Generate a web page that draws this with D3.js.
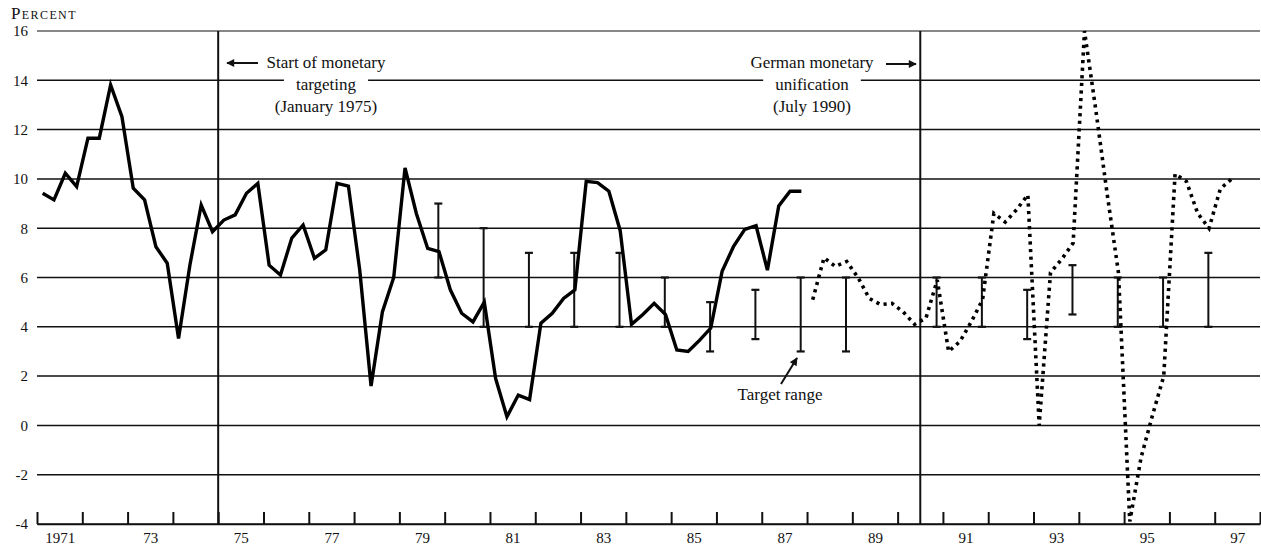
<!DOCTYPE html>
<html>
<head>
<meta charset="utf-8">
<script src="https://cdn.jsdelivr.net/npm/d3@7"></script>
<style>
  body { margin: 0; background: #fff; }
  svg text { font-family: "Liberation Serif", "DejaVu Serif", serif; fill: #111; }
</style>
</head>
<body>
<script>
// Chart size (matches the window)
var width = 1261;
var height = 552;

// Quarterly money growth, 1971 Q1 - 1987 Q4 (solid line)
var solidStart = 1971;
var solidValues = [
  9.42, 9.15, 10.23, 9.69,   11.65, 11.65, 13.81, 12.52,
  9.62, 9.15, 7.25, 6.58,    3.53, 6.5, 8.94, 7.86,
  8.33, 8.54, 9.42, 9.82,    6.5, 6.1, 7.6, 8.13,
  6.78, 7.12, 9.82, 9.71,    6.3, 1.6, 4.6, 6.0,
  10.45, 8.6, 7.18, 7.05,    5.5, 4.55, 4.2, 5.0,
  1.9, 0.35, 1.23, 1.05,     4.15, 4.55, 5.15, 5.5,
  9.9, 9.85, 9.5, 7.9,       4.1, 4.5, 4.95, 4.5,
  3.06, 3.0, 3.45, 3.95,     6.25, 7.25, 7.95, 8.1,
  6.3, 8.9, 9.5, 9.5
];

// Quarterly money growth, 1988 Q1 - 1997 Q2 (dotted line)
var dottedStart = 1988;
var dottedValues = [
  5.1, 6.8, 6.45, 6.65,      6.0, 5.15, 4.9, 4.95,
  4.6, 4.1, 4.35, 5.9,       3.0, 3.4, 4.2, 5.1,
  8.6, 8.25, 8.75, 9.35,     0.0, 6.2, 6.75, 7.4,
  16.0, 12.8, 9.4, 6.2,      -3.9, -1.3, 0.4, 2.0,
  10.2, 9.9, 8.6, 8.0,       9.6, 10.0
];

// Target ranges (percent), plotted in the fourth quarter of each year
var targetYears = [1979, 1980, 1981, 1982, 1983, 1984, 1985, 1986, 1987, 1988,
                   1990, 1991, 1992, 1993, 1994, 1995, 1996];
var targetLow   = [6, 4, 4, 4, 4, 4, 3, 3.5, 3, 3, 4, 4, 3.5, 4.5, 4, 4, 4];
var targetHigh  = [9, 8, 7, 7, 7, 6, 5, 5.5, 6, 6, 6, 6, 5.5, 6.5, 6, 6, 7];

// Axis ticks
var yTicks = [-4, -2, 0, 2, 4, 6, 8, 10, 12, 14, 16];
var yearLabels = [1971, 1973, 1975, 1977, 1979, 1981, 1983, 1985, 1987, 1989, 1991, 1993, 1995, 1997];

var x = d3.scaleLinear().domain([1971, 1998]).range([37, 1260]);
var y = d3.scaleLinear().domain([-4, 16]).range([524, 31]);

var svg = d3.select("body").append("svg")
  .attr("width", width)
  .attr("height", height);

// arrowhead marker
svg.append("defs").append("marker")
  .attr("id", "head")
  .attr("viewBox", "0 0 10 10")
  .attr("refX", 9).attr("refY", 5)
  .attr("markerWidth", 5).attr("markerHeight", 4)
  .attr("markerUnits", "strokeWidth")
  .attr("orient", "auto")
  .append("path")
  .attr("d", "M0,0 L10,5 L0,10 z")
  .attr("fill", "#111");

// Horizontal grid lines
svg.append("g").selectAll("line")
  .data(yTicks)
  .enter().append("line")
  .attr("x1", x(1971)).attr("x2", x(1998))
  .attr("y1", function (d) { return y(d); })
  .attr("y2", function (d) { return y(d); })
  .attr("stroke", "#111")
  .attr("stroke-width", function (d) { return d == 16 ? 1 : 1.5; });

// Y labels (plain hyphen for negatives, as in the print)
var yAxis = svg.append("g")
  .attr("transform", "translate(" + x(1971) + ",0)")
  .call(d3.axisLeft(y).tickValues(yTicks).tickSize(0).tickPadding(9)
    .tickFormat(function (d) { return String(d); }));
yAxis.select(".domain").remove();
yAxis.selectAll("text")
  .attr("font-size", "15px")
  .attr("font-family", "Liberation Serif")
  .attr("fill", "#111");

// Bottom axis: year ticks pointing up
var xAxis = svg.append("g")
  .attr("transform", "translate(0," + y(-4) + ")")
  .call(d3.axisBottom(x).tickValues(d3.range(1971, 1999)).tickSize(-12).tickSizeOuter(0).tickFormat(""));
xAxis.select(".domain").attr("stroke", "#111").attr("stroke-width", 1.5);
xAxis.selectAll(".tick line").attr("stroke", "#111").attr("stroke-width", 2);

// Year labels centered on the year
var xLab = svg.append("g")
  .attr("transform", "translate(0," + y(-4) + ")")
  .call(d3.axisBottom(x)
    .tickValues(yearLabels.map(function (d) { return d + 0.5; }))
    .tickSize(0).tickPadding(8)
    .tickFormat(function (d) {
      var yr = Math.floor(d);
      return yr == 1971 ? "1971" : String(yr).slice(2);
    }));
xLab.select(".domain").remove();
xLab.selectAll("text")
  .attr("font-size", "15px")
  .attr("font-family", "Liberation Serif")
  .attr("fill", "#111");

// Vertical event lines
[1975, 1990.5].forEach(function (t) {
  svg.append("line")
    .attr("x1", x(t)).attr("x2", x(t))
    .attr("y1", y(16)).attr("y2", y(-4))
    .attr("stroke", "#111")
    .attr("stroke-width", 2);
});

// Target range bars
var bars = svg.append("g").selectAll("g")
  .data(targetYears)
  .enter().append("g");
bars.append("line")
  .attr("x1", function (d) { return x(d + 0.86); })
  .attr("x2", function (d) { return x(d + 0.86); })
  .attr("y1", function (d, i) { return y(targetHigh[i]); })
  .attr("y2", function (d, i) { return y(targetLow[i]); })
  .attr("stroke", "#111").attr("stroke-width", 2);
[targetHigh, targetLow].forEach(function (arr) {
  bars.append("line")
    .attr("x1", function (d) { return x(d + 0.86) - 4; })
    .attr("x2", function (d) { return x(d + 0.86) + 4; })
    .attr("y1", function (d, i) { return y(arr[i]); })
    .attr("y2", function (d, i) { return y(arr[i]); })
    .attr("stroke", "#111").attr("stroke-width", 2.2);
});

// Data lines
var line = d3.line()
  .x(function (d) { return x(d.t); })
  .y(function (d) { return y(d.v); });

function quarters(start, values) {
  return values.map(function (v, i) { return { t: start + i * 0.25 + 0.125, v: v }; });
}

svg.append("path")
  .datum(quarters(solidStart, solidValues))
  .attr("d", line)
  .attr("fill", "none")
  .attr("stroke", "#000")
  .attr("stroke-width", 3.4)
  .attr("stroke-linejoin", "miter");

svg.append("path")
  .datum(quarters(dottedStart, dottedValues))
  .attr("d", line)
  .attr("fill", "none")
  .attr("stroke", "#000")
  .attr("stroke-width", 3.6)
  .attr("stroke-dasharray", "3.2 4.4");

// Annotations
var noteSize = 17;
function note(cx, lines, gapLine) {
  var g = svg.append("g");
  lines.forEach(function (s, i) {
    var ty = 68 + i * 22;
    if (i == gapLine) {
      // blank out grid line behind this text line
      var tmp = g.append("text").attr("font-size", noteSize + "px").text(s);
      var w = tmp.node().getComputedTextLength();
      tmp.remove();
      g.append("rect")
        .attr("x", cx - w / 2 - 12).attr("y", ty - 16)
        .attr("width", w + 24).attr("height", 20)
        .attr("fill", "#fff");
    }
    g.append("text")
      .attr("x", cx).attr("y", ty)
      .attr("text-anchor", "middle")
      .attr("font-size", noteSize + "px")
      .text(s);
  });
}

note(326, ["Start of monetary", "targeting", "(January 1975)"], 1);
note(812, ["German monetary", "unification", "(July 1990)"], 1);

svg.append("line")
  .attr("x1", 258).attr("y1", 63).attr("x2", 227).attr("y2", 63)
  .attr("stroke", "#111").attr("stroke-width", 2)
  .attr("marker-end", "url(#head)");
svg.append("line")
  .attr("x1", 886).attr("y1", 64).attr("x2", 916).attr("y2", 64)
  .attr("stroke", "#111").attr("stroke-width", 2)
  .attr("marker-end", "url(#head)");

svg.append("text")
  .attr("x", 780).attr("y", 400)
  .attr("text-anchor", "middle")
  .attr("font-size", noteSize + "px")
  .text("Target range");
svg.append("line")
  .attr("x1", 781).attr("y1", 384).attr("x2", 797).attr("y2", 358)
  .attr("stroke", "#111").attr("stroke-width", 2)
  .attr("marker-end", "url(#head)");

// Unit label
svg.append("text")
  .attr("x", 11).attr("y", 19)
  .attr("font-size", "17px")
  .attr("letter-spacing", "1.4px")
  .style("font-variant", "small-caps")
  .text("Percent");
</script>
</body>
</html>
